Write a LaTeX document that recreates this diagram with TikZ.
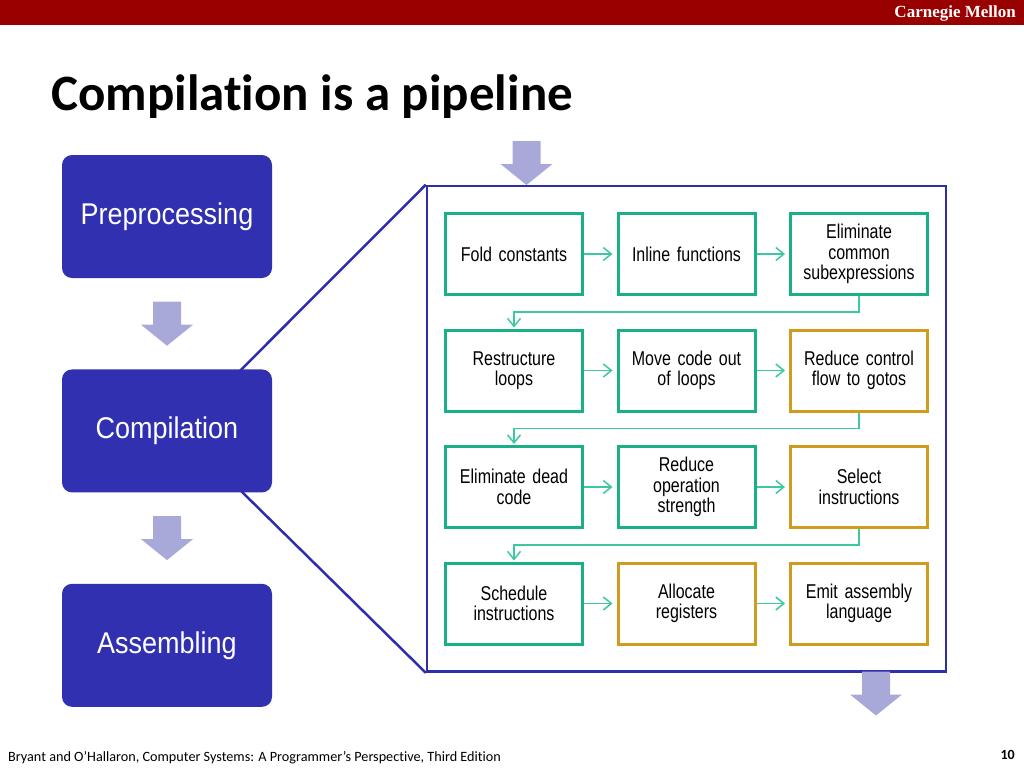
\documentclass[tikz,border=0pt]{standalone}
\usepackage{fontspec}
\setmainfont{Liberation Sans}
\newfontfamily\narrowsf[FakeStretch=0.8]{Liberation Sans}
\newfontfamily\stagesf[FakeStretch=0.9]{Liberation Sans}
\newfontfamily\slidesf[Ligatures=NoCommon]{Carlito}
\newfontfamily\cmusf{Liberation Serif}
\usetikzlibrary{arrows.meta, positioning, calc, fit, backgrounds}
\definecolor{cmured}{HTML}{990000}
\definecolor{stageblue}{HTML}{3030B0}
\definecolor{frameblue}{HTML}{2E2EAA}
\definecolor{lavender}{HTML}{A9A9D9}
\definecolor{passgreen}{HTML}{19B088}
\definecolor{linkgreen}{HTML}{3CC8A0}
\definecolor{gold}{HTML}{D09C20}
\newcommand{\passfont}{\narrowsf\fontsize{20}{20.5}\selectfont\spaceskip 4pt\relax}
\newcommand{\blkarrow}[1]{\fill[lavender] #1 ++(-14,-22) -- ++(28,0) -- ++(0,23)
  -- ++(12,0) -- ++(-26,21) -- ++(-26,-21) -- ++(12,0) -- cycle;}

\begin{document}
\begin{tikzpicture}[x=1pt, y=-1pt, node distance=32.5pt,
   stage/.style={rectangle, rounded corners=10pt, fill=stageblue, text=white,
     minimum width=210pt, minimum height=123pt,
     font=\stagesf\fontsize{30}{32}\selectfont},
   pass/.style={rectangle, draw=passgreen, line width=3pt, fill=white,
     minimum width=137pt, minimum height=81pt, text width=128pt, align=center,
     inner sep=3pt, font=\passfont},
   passg/.style={pass, draw=gold},
   ar/.style={-{Straight Barb[length=8pt, width=13pt]}, line width=1.5pt,
     draw=linkgreen, shorten >=4pt}]
 \useasboundingbox (0,0) rectangle (1024,768);
 \fill[cmured] (0,0) rectangle (1024,25);
 \node[anchor=base east, inner sep=0pt, text=white,
   font=\cmusf\bfseries\fontsize{17}{17}\selectfont] (cmu) at (1016,18) {Carnegie Mellon};
 \node[anchor=base west, inner sep=0pt,
   font=\slidesf\bfseries\fontsize{51}{51}\selectfont] (title) at (51,110) {Compilation is a pipeline};

 \node[stage] (pre) at (167,216.5) {Preprocessing};
 \node[stage, below=91pt of pre] (comp) {Compilation};
 \node[stage, below=91pt of comp] (asm) {Assembling};

 \node[pass] (c11) at (514,254) {Fold constants};
 \node[pass, right=of c11] (c12) {Inline functions};
 \node[pass, right=of c12] (c13) {Eliminate\\common\\subexpressions};
 \node[pass, below=of c11] (c21) {Restructure\\loops};
 \node[pass, right=of c21] (c22) {Move code out\\of loops};
 \node[passg, right=of c22] (c23) {Reduce control\\flow to gotos};
 \node[pass, below=of c21] (c31) {Eliminate dead\\code};
 \node[pass, right=of c31] (c32) {Reduce\\operation\\strength};
 \node[passg, right=of c32] (c33) {Select\\instructions};
 \node[pass, below=of c31] (c41) {Schedule\\instructions};
 \node[passg, right=of c41] (c42) {Allocate\\registers};
 \node[passg, right=of c42] (c43) {Emit assembly\\language};
 \node[draw=frameblue, line width=2.5pt, inner xsep=17pt, inner ysep=26pt,
   fit=(c11)(c43)] (pipe) {};

 \draw[ar] (c11) -- (c12); \draw[ar] (c12) -- (c13);
 \draw[ar] (c21) -- (c22); \draw[ar] (c22) -- (c23);
 \draw[ar] (c31) -- (c32); \draw[ar] (c32) -- (c33);
 \draw[ar] (c41) -- (c42); \draw[ar] (c42) -- (c43);
 \draw[ar, shorten >=1pt] (c13.south) -- ++(0,16) -| (c21.north);
 \draw[ar, shorten >=1pt] (c23.south) -- ++(0,16) -| (c31.north);
 \draw[ar, shorten >=1pt] (c33.south) -- ++(0,16) -| (c41.north);

 \begin{scope}[on background layer]
  \draw[frameblue, line width=2.5pt] (pipe.north west) -- ($(comp.center)+(13,0)$);
  \draw[frameblue, line width=2.5pt] (pipe.south west) -- ($(comp.center)+(13,0)$);
 \end{scope}

 \blkarrow{($(pre.south)!.5!(comp.north)$)}
 \blkarrow{($(comp.south)!.5!(asm.north)$)}
 \blkarrow{(526.5,163)}
 \blkarrow{(876,693.5)}

 \node[anchor=base west, inner sep=0pt, font=\slidesf\fontsize{14.2}{14.2}\selectfont]
   (cite) at (8,761) {Bryant and O’Hallaron, Computer Systems: A Programmer’s Perspective, Third Edition};
 \node[anchor=base east, inner sep=0pt, font=\slidesf\bfseries\fontsize{14}{14}\selectfont]
   (page) at (1015,759) {10};
\end{tikzpicture}
\end{document}
